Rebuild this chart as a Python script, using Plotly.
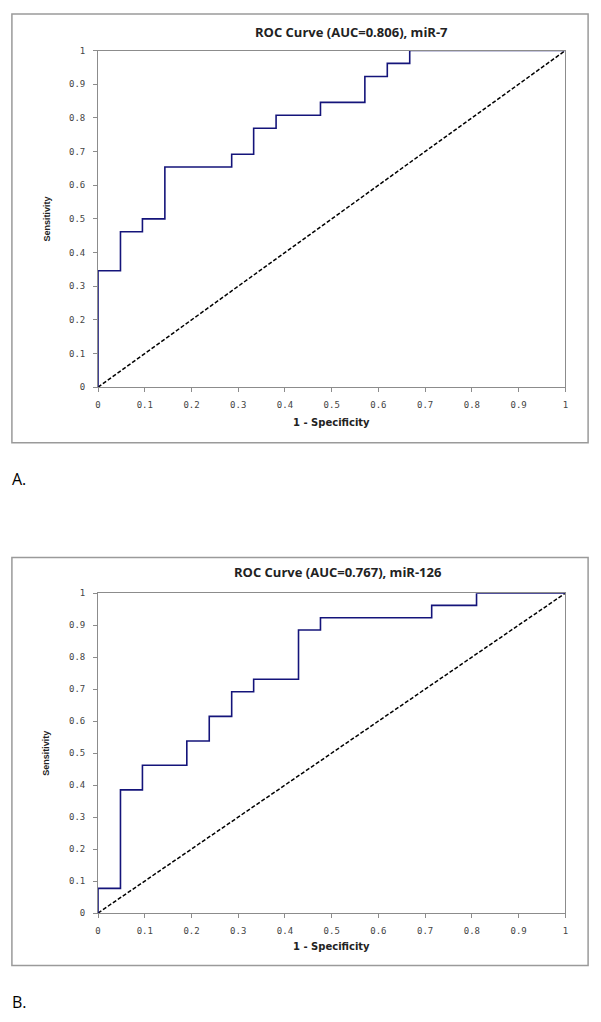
import plotly.graph_objects as go

W, H = 601, 1022

# ROC step corners (1 - specificity, sensitivity)
fpr_a = [0, 0, 0.048, 0.095, 0.143, 0.286, 0.333, 0.381, 0.476, 0.571, 0.619, 0.667, 1]
tpr_a = [0, 0.346, 0.462, 0.5, 0.654, 0.692, 0.769, 0.808, 0.846, 0.923, 0.962, 1, 1]
fpr_b = [0, 0, 0.048, 0.095, 0.190, 0.238, 0.286, 0.333, 0.429, 0.476, 0.714, 0.810, 1]
tpr_b = [0, 0.077, 0.385, 0.462, 0.538, 0.615, 0.692, 0.731, 0.885, 0.923, 0.962, 1, 1]
ref_line = [0, 1]
ticks = [0, 0.1, 0.2, 0.3, 0.4, 0.5, 0.6, 0.7, 0.8, 0.9, 1]
tick_text = ["0", "0.1", "0.2", "0.3", "0.4", "0.5", "0.6", "0.7", "0.8", "0.9", "1"]
titles = ["ROC Curve (AUC=0.806), miR-7", "ROC Curve (AUC=0.767), miR-126"]
panel_labels = ["A.", "B."]


def px(x):
    return x / W


def py(y):
    return 1 - y / H


# pixel layout of each panel: border box, plot area top/bottom, label positions
panels = [
    dict(box=(9, 9, 591, 442), top=46, bottom=386, title_x=352, title_y=27,
         xlab_y=422, lab_y=479),
    dict(box=(9, 558, 591, 970), top=594, bottom=917, title_x=338, title_y=573,
         xlab_y=951, lab_y=1007),
]

fig = go.Figure()
line_col = "#14147a"
axis_col = "#8c8c8c"

for i, (fx, ty) in enumerate([(fpr_a, tpr_a), (fpr_b, tpr_b)]):
    xa = "x" if i == 0 else "x2"
    ya = "y" if i == 0 else "y2"
    fig.add_trace(go.Scatter(x=ref_line, y=ref_line, mode="lines", xaxis=xa, yaxis=ya,
                             line=dict(color="black", width=1.5, dash="4px,2px"),
                             showlegend=False, hoverinfo="skip"))
    fig.add_trace(go.Scatter(x=fx, y=ty, mode="lines", line_shape="hv", xaxis=xa, yaxis=ya,
                             line=dict(color=line_col, width=1.6), showlegend=False))

axis_common = dict(range=[0, 1], tickvals=ticks, ticktext=tick_text, showgrid=False,
                   zeroline=False, showline=True, linecolor=axis_col, linewidth=1,
                   mirror=True, ticks="outside", ticklen=4, tickcolor=axis_col,
                   tickfont=dict(family="DejaVu Sans Mono", size=9, color="#444444"))

layout = dict(width=W, height=H, margin=dict(l=0, r=0, t=0, b=0),
              paper_bgcolor="white", plot_bgcolor="white", showlegend=False)

shapes = []
annotations = []


def note(text, x, y, font, **kw):
    return dict(text=text, x=px(x), y=py(y), xref="paper", yref="paper",
                xanchor=kw.pop("xanchor", "center"), yanchor="middle",
                showarrow=False, font=font, **kw)


for i, p in enumerate(panels):
    sfx = "" if i == 0 else "2"
    layout["xaxis" + sfx] = dict(axis_common, domain=[px(96), px(568)],
                                 anchor="y" + sfx, ticklabelstandoff=5)
    layout["yaxis" + sfx] = dict(axis_common, domain=[py(p["bottom"]), py(p["top"])],
                                 anchor="x" + sfx, ticklabelstandoff=6)
    x0, y0, x1, y1 = p["box"]
    shapes.append(dict(type="rect", xref="paper", yref="paper",
                       x0=px(x0), x1=px(x1), y0=py(y1), y1=py(y0),
                       line=dict(color="#9a9a9a", width=1.5), layer="below"))
    annotations += [
        note("<b>" + titles[i] + "</b>", p["title_x"], p["title_y"],
             dict(family="Open Sans", size=13, color="#222222")),
        note("<b>1 - Specificity</b>", 332, p["xlab_y"],
             dict(family="DejaVu Sans", size=10, color="#222222")),
        note("<b>Sensitivity</b>", 44, (p["top"] + p["bottom"]) / 2,
             dict(family="Liberation Sans Narrow, Liberation Sans", size=9, color="#222222"),
             textangle=-90),
        note(panel_labels[i], 7, p["lab_y"],
             dict(family="Open Sans", size=16, color="black"), xanchor="left"),
    ]

layout["shapes"] = shapes
layout["annotations"] = annotations
fig.update_layout(**layout)

fig.write_html("out.html", config={"displayModeBar": False},
               post_script="document.body.style.margin='0';")
